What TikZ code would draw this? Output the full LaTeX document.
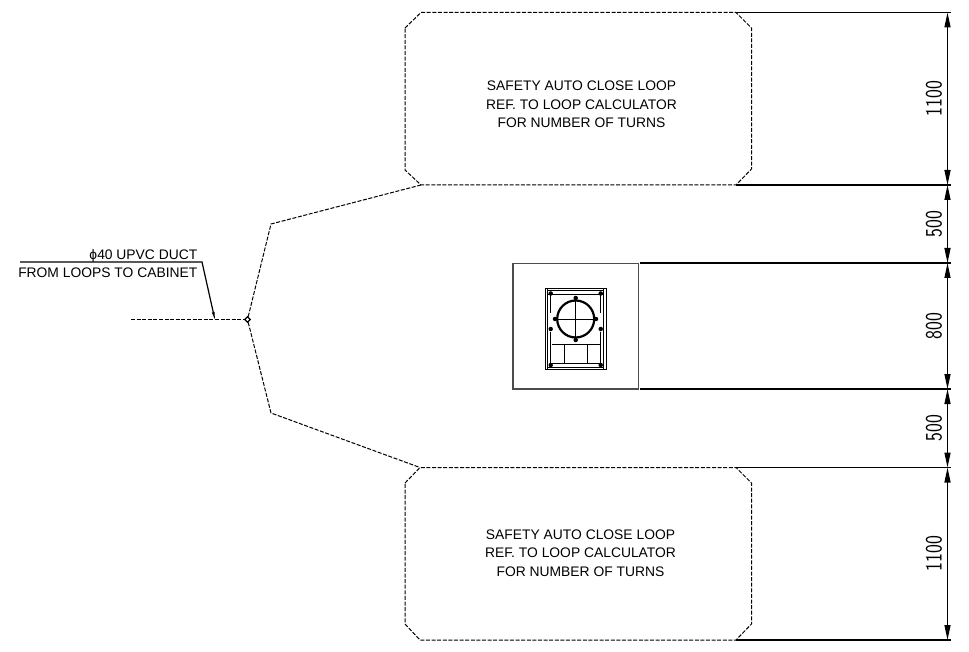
\documentclass[tikz,border=0pt]{standalone}
\usepackage{fontspec}
\setmainfont{Liberation Sans}
\usetikzlibrary{positioning,arrows.meta,shapes.geometric}

\tikzset{
    loopzone/.style={draw, dash pattern=on 4pt off 1.6pt, line width=1pt},
    looptext/.style={align=center, font=\fontsize{13.85}{18.5}\selectfont},
    duct/.style={dash pattern=on 4pt off 1.6pt, line width=1pt},
    extline/.style={line width=1.2pt},
    dimline/.style={line width=1.2pt, {Triangle[length=15pt,width=6pt]}-{Triangle[length=15pt,width=6pt]}},
    dimlabel/.style={sloped, above, inner sep=5pt, font=\sffamily\fontsize{23.5}{23.5}\selectfont},
    calltext/.style={font=\fontsize{13.85}{15}\selectfont, inner sep=0pt},
    boltdot/.style={circle, fill, inner sep=0pt, minimum size=4.5pt},
}

\begin{document}
\begin{tikzpicture}[x=1pt, y=-1pt]

    \useasboundingbox (0,0) rectangle (969,652);

    \draw[loopzone] (405,28) -- (421,12.5) -- (736,12.5) -- (751.5,28) -- (751.5,169) -- (736,185) -- (421,185) -- (405,170) -- cycle;
    \draw[loopzone] (405,483) -- (420,467.5) -- (736,467.5) -- (751.5,483) -- (751.5,624) -- (736,640) -- (420,640) -- (405,624) -- cycle;
    \node[looptext] (looptoptext) at (581.5,104.5) {SAFETY AUTO CLOSE LOOP\\REF. TO LOOP CALCULATOR\\FOR NUMBER OF TURNS};
    \node[looptext] (loopbottomtext) at (580.5,553) {SAFETY AUTO CLOSE LOOP\\REF. TO LOOP CALCULATOR\\FOR NUMBER OF TURNS};

    \coordinate (e1) at (736,12.5);
    \coordinate (e2) at (736,185);
    \coordinate (e3) at (640,263);
    \coordinate (e4) at (640,389);
    \coordinate (e5) at (736,467.5);
    \coordinate (e6) at (736,640);

    \coordinate (a1) at (947.5,12.5);
    \coordinate (a2) at (947.5,185);
    \coordinate (a3) at (947.5,263);
    \coordinate (a4) at (947.5,389);
    \coordinate (a5) at (947.5,467.5);
    \coordinate (a6) at (947.5,640);

    \path[extline, draw]
        (e1) -- ([xshift=3pt]a1)
        (e2) -- ([xshift=3pt]a2)
        (e3) -- ([xshift=3pt]a3)
        (e4) -- ([xshift=3pt]a4)
        (e5) -- ([xshift=3pt]a5)
        (e6) -- ([xshift=3pt]a6);

    \path[dimline]
        (a2) edge node[dimlabel] {\scalebox{.8}[1]{1100}} (a1)
        (a3) edge node[dimlabel] {\scalebox{.8}[1]{500}} (a2)
        (a4) edge node[dimlabel] {\scalebox{.8}[1]{800}} (a3)
        (a5) edge node[dimlabel] {\scalebox{.8}[1]{500}} (a4)
        (a6) edge node[dimlabel] {\scalebox{.8}[1]{1100}} (a5);

    \node[draw, diamond, inner sep=0pt, minimum size=6pt, line width=1.1pt] (junction) at (247.5,319.5) {};
    \coordinate (ductend) at (131,319.5);
    \coordinate (kneetop) at (271,224);
    \coordinate (kneebottom) at (271,413);
    \coordinate (looptopin) at (421,185);
    \coordinate (loopbottomin) at (420,467.5);

    \draw[duct] (ductend) -- (junction);
    \draw[duct] (junction) -- (kneetop) -- (looptopin);
    \draw[duct] (junction) -- (kneebottom) -- (loopbottomin);

    \coordinate (leaderstart) at (20,262);
    \coordinate (leaderknee) at (202,262);
    \coordinate (leaderend) at (215,320);
    \draw[line width=1.2pt, -{Triangle[length=8pt,width=2.5pt]}] (leaderstart) -- (leaderknee) -- (leaderend);

    \node[calltext, anchor=base east] (calltop) at (197.5,260) {ϕ40 UPVC DUCT};
    \node[calltext, anchor=base east] (callbottom) at (197.5,278) {FROM LOOPS TO CABINET};

    \draw[line width=1.2pt, draw=black!70] (513,263.5) rectangle (638.5,389);

    \draw[line width=1pt] (545.5,289) rectangle (606.5,369.5);
    \draw[line width=1pt] (547.5,291) -- (603.5,291) (547.5,295) -- (603.5,295);
    \draw[line width=1pt] (547.5,289) -- (547.5,369.5) (603.5,289) -- (603.5,369.5);
    \draw[line width=1.4pt] (550.7,292) -- (550.7,313) (600.7,292) -- (600.7,313);
    \draw[line width=1.4pt] (550.7,332) -- (550.7,367) (600.7,332) -- (600.7,367);

    \node[draw, circle, inner sep=0pt, minimum size=37pt, line width=2.2pt] (ductring) at (575.7,319) {};
    \draw[line width=1pt] (575.7,298) -- (575.7,340) (554.5,319) -- (597,319);

    \node[boltdot] (bolt1) at (575.7,298) {};
    \node[boltdot] (bolt2) at (575.7,340) {};
    \node[boltdot] (bolt3) at (555,319) {};
    \node[boltdot] (bolt4) at (596,319) {};
    \node[boltdot] (bolt5) at (550.7,329) {};
    \node[boltdot] (bolt6) at (600.7,329) {};
    \node[boltdot] (bolt7) at (550.7,293.5) {};
    \node[boltdot] (bolt8) at (600.7,293.5) {};
    \node[boltdot] (bolt9) at (550.7,365) {};
    \node[boltdot] (bolt10) at (600.7,365) {};

    \draw[line width=1pt] (551.5,344) -- (600,344);
    \draw[line width=1pt] (564.3,344) -- (564.3,363.5) (587.3,344) -- (587.3,363.5);
    \draw[line width=1pt] (551.5,363.5) -- (600,363.5) (547.5,367) -- (603.5,367);

\end{tikzpicture}
\end{document}
